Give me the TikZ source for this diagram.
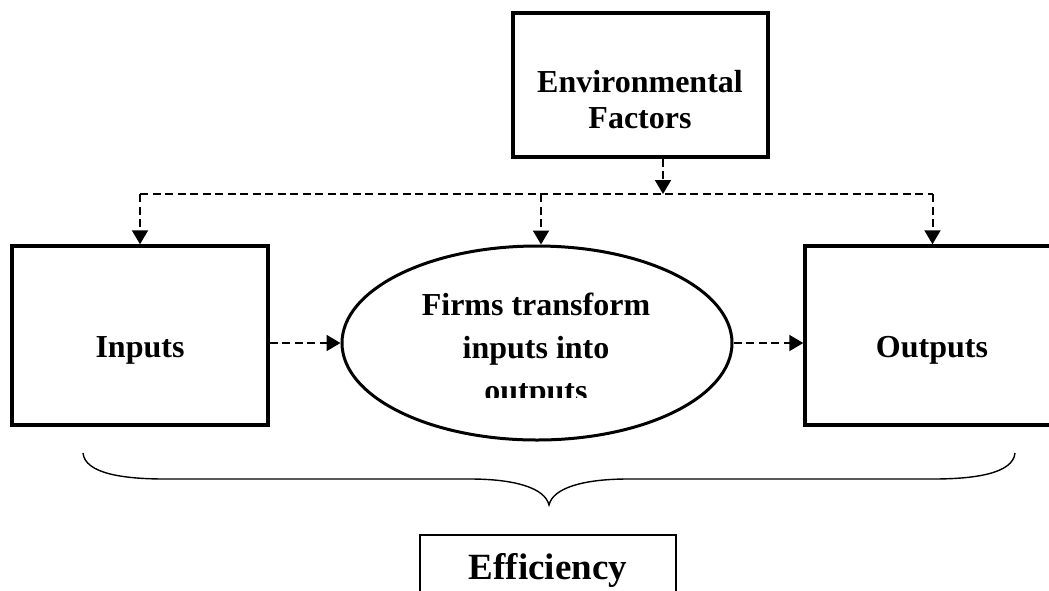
\documentclass[tikz,border=0pt]{standalone}
\usepackage{fontspec}
\setmainfont{Liberation Serif}
\usetikzlibrary{arrows.meta,shapes.geometric}

\tikzset{
  thickbox/.style={draw, line width=3.5pt, rectangle, inner sep=0pt},
  thinbox/.style={draw, line width=1.3pt, rectangle, inner sep=0pt},
  oval/.style={draw, line width=3pt, ellipse, inner sep=0pt},
  dashline/.style={line width=2pt, dash pattern=on 8pt off 4.5pt},
  dasharrow/.style={dashline, -{Triangle[length=14pt,width=16pt]}},
  txt/.style={anchor=base, inner sep=0pt, font=\bfseries\fontsize{32}{37}\selectfont},
  bigtxt/.style={anchor=base, inner sep=0pt, font=\bfseries\fontsize{37}{42}\selectfont},
  bracepath/.style={line width=1.4pt}
}

\begin{document}
\begin{tikzpicture}[x=1pt, y=-1pt]
  \clip (0,0) rectangle (1049,590);
  \fill[white] (0,0) rectangle (1049,590);

  % boxes and the central process
  \node[thickbox, minimum width=255pt, minimum height=144pt] (env) at (640.5,85) {};
  \node[thickbox, minimum width=256pt, minimum height=179pt] (in)  at (140,335.5) {};
  \node[thickbox, minimum width=255pt, minimum height=179pt] (out) at (932.5,335.5) {};
  \node[oval, minimum width=390pt, minimum height=194pt] (proc) at (537,343) {};
  \node[thinbox, minimum width=256pt, minimum height=72pt] (eff) at (548,571) {};

  % labels
  \node[txt] (envA) at (640,92)  {Environmental};
  \node[txt] (envB) at (640,128) {Factors};
  \node[txt] (inT)  at (140,357) {Inputs};
  \node[txt] (outT) at (932,357) {Outputs};
  \node[txt] (prA)  at (536,315) {Firms transform};
  \node[txt] (prB)  at (536,358) {inputs into};
  \begin{scope}
    \clip (400,360) rectangle (680,397);
    \node[txt] (prC) at (536,401) {outputs};
  \end{scope}
  \node[bigtxt] (effT) at (548,579) {Efficiency};

  % dashed distribution bus from the environmental factors
  \coordinate (busy) at (0,194);
  \coordinate (envx) at (663,0);
  \coordinate (midx) at (541,0);
  \draw[dasharrow] (env.south -| envx) -- (envx |- busy);
  \draw[dashline] (in.north |- busy) -- (out.north |- busy);
  \draw[dasharrow] (in.north |- busy) -- (in.north);
  \draw[dasharrow] (midx |- busy) -- (midx |- proc.north);
  \draw[dasharrow] (out.north |- busy) -- (out.north);

  % flow through the firm
  \draw[dasharrow] (in.east |- proc.west) -- (proc.west);
  \draw[dasharrow] (proc.east) -- (out.west |- proc.east);

  % brace over the whole process
  \coordinate (bl) at (83,453);
  \coordinate (br) at (1015,453);
  \coordinate (tip) at (549,505);
  \draw[bracepath] (bl) .. controls (85,474) and (125,479) .. (165,479)
    -- (470,479) .. controls (515,479) and (545,488) .. (tip)
    .. controls (553,488) and (583,479) .. (628,479)
    -- (933,479) .. controls (973,479) and (1013,474) .. (br);
\end{tikzpicture}
\end{document}
